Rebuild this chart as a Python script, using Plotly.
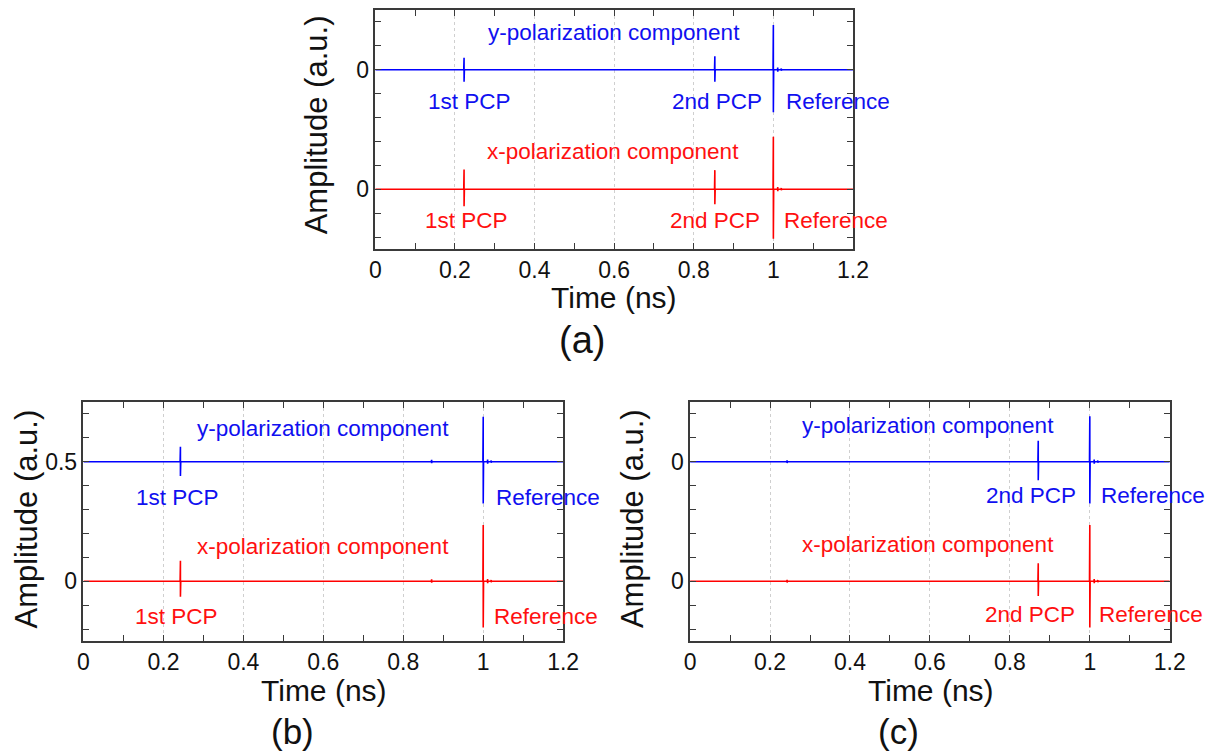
import plotly.graph_objects as go

# ---------------- data ----------------
T_START, T_END = 0.0, 1.2          # time window (ns)
Y_OFFSET = 0.5                     # vertical offset of the y-polarization trace
PULSE_HALF_WIDTH = 0.0008          # ns

# panel (a): pulse times (ns) and positive / negative excursions
a_times       = [0.223, 0.853, 1.000, 1.011, 1.020]
a_y_pos       = [0.050, 0.056, 0.187, 0.009, 0.005]
a_y_neg       = [0.050, 0.050, 0.178, 0.008, 0.004]
a_x_pos       = [0.083, 0.080, 0.220, 0.009, 0.005]
a_x_neg       = [0.071, 0.063, 0.207, 0.008, 0.004]

# panel (b)
b_times       = [0.2425, 0.871, 1.000, 1.011, 1.020]
b_y_pos       = [0.063, 0.008, 0.188, 0.009, 0.005]
b_y_neg       = [0.060, 0.006, 0.175, 0.008, 0.004]
b_x_pos       = [0.086, 0.008, 0.235, 0.009, 0.005]
b_x_neg       = [0.065, 0.006, 0.193, 0.008, 0.004]

# panel (c)
c_times       = [0.2427, 0.871, 1.000, 1.011, 1.020]
c_y_pos       = [0.006, 0.088, 0.190, 0.009, 0.005]
c_y_neg       = [0.005, 0.077, 0.175, 0.008, 0.004]
c_x_pos       = [0.006, 0.075, 0.235, 0.009, 0.005]
c_x_neg       = [0.005, 0.062, 0.193, 0.008, 0.004]

x_tick_labels = ["0", "0.2", "0.4", "0.6", "0.8", "1", "1.2"]
x_tick_vals = [0, 0.2, 0.4, 0.6, 0.8, 1.0, 1.2]
y_tick_vals = [0, 0.5]
a_y_tick_text = ["0", "0"]
b_y_tick_text = ["0", "0.5"]
c_y_tick_text = ["0", "0"]

# text labels: (text, x, y)
a_blue_labels = [("y-polarization component", 0.599, 0.657), ("1st PCP", 0.236, 0.369),
                 ("2nd PCP", 0.859, 0.369), ("Reference", 1.162, 0.369)]
a_red_labels = [("x-polarization component", 0.598, 0.159), ("1st PCP", 0.229, -0.132),
                ("2nd PCP", 0.853, -0.132), ("Reference", 1.158, -0.132)]
b_blue_labels = [("y-polarization component", 0.598, 0.640), ("1st PCP", 0.235, 0.351),
                 ("Reference", 1.162, 0.351)]
b_red_labels = [("x-polarization component", 0.598, 0.145), ("1st PCP", 0.232, -0.148),
                ("Reference", 1.157, -0.148)]
c_blue_labels = [("y-polarization component", 0.594, 0.650), ("2nd PCP", 0.853, 0.357),
                 ("Reference", 1.158, 0.357)]
c_red_labels = [("x-polarization component", 0.594, 0.152), ("2nd PCP", 0.850, -0.141),
                ("Reference", 1.154, -0.141)]

# ---------------- styling ----------------
W, H = 1211, 755
FONT = "Arial, Liberation Sans, sans-serif"
BLUE_LINE, RED_LINE = "#0000ff", "#ff0000"
BLUE_TEXT, RED_TEXT = "#1010f0", "#ff1010"
FRAME = "#3a3a3a"

# horizontal correction for the capture pipeline (observed compression)
SX, DX = 0.9825, 5.45


def px_x(px):
    return ((px - DX) / SX) / W


# panel domains in pixels: (left, right, top, bottom)
panels_px = {
    "a": (375, 853, 10, 249),
    "b": (83, 563, 402, 641),
    "c": (690, 1170, 402, 641),
}


def build_trace(times, pos, neg, offset):
    xs, ys = [T_START], [offset]
    for t, p, n in sorted(zip(times, pos, neg)):
        xs += [t - PULSE_HALF_WIDTH, t, t, t + PULSE_HALF_WIDTH]
        ys += [offset, offset + p, offset - n, offset]
    xs.append(T_END)
    ys.append(offset)
    return xs, ys


fig = go.Figure()
panel_data = {
    "a": (a_times, a_y_pos, a_y_neg, a_x_pos, a_x_neg, a_y_tick_text, a_blue_labels, a_red_labels),
    "b": (b_times, b_y_pos, b_y_neg, b_x_pos, b_x_neg, b_y_tick_text, b_blue_labels, b_red_labels),
    "c": (c_times, c_y_pos, c_y_neg, c_x_pos, c_x_neg, c_y_tick_text, c_blue_labels, c_red_labels),
}

annotations = []
for i, key in enumerate(["a", "b", "c"]):
    times, ypos, yneg, xpos, xneg, ytext, blue_lab, red_lab = panel_data[key]
    sfx = "" if i == 0 else str(i + 1)
    xa, ya = "x" + sfx, "y" + sfx
    bx, by = build_trace(times, ypos, yneg, Y_OFFSET)
    rx, ry = build_trace(times, xpos, xneg, 0.0)
    fig.add_trace(go.Scatter(x=rx, y=ry, mode="lines", line=dict(color=RED_LINE, width=1.6),
                             xaxis=xa, yaxis=ya, showlegend=False, hoverinfo="skip"))
    fig.add_trace(go.Scatter(x=bx, y=by, mode="lines", line=dict(color=BLUE_LINE, width=1.6),
                             xaxis=xa, yaxis=ya, showlegend=False, hoverinfo="skip"))

    l, r, t, b = panels_px[key]
    xdom = [px_x(l), px_x(r)]
    ydom = [1 - b / H, 1 - t / H]
    xaxis = dict(domain=xdom, range=[T_START, T_END], tickmode="array", tickvals=x_tick_vals,
                 ticktext=x_tick_labels, ticks="inside", ticklen=6, tickcolor=FRAME,
                 minor=dict(tickmode="linear", tick0=0, dtick=0.1, ticks="inside", ticklen=6,
                            tickcolor=FRAME, showgrid=False),
                 showline=True, linecolor=FRAME, linewidth=1.5, mirror="ticks",
                 showgrid=True, gridcolor="#cfcfcf", griddash="dot", gridwidth=1,
                 zeroline=False, anchor=ya,
                 tickfont=dict(family=FONT, size=23, color="#111111"))
    yaxis = dict(domain=ydom, range=[-0.25, 0.75], tickmode="array", tickvals=y_tick_vals,
                 ticktext=ytext, ticks="inside", ticklen=6, tickcolor=FRAME,
                 minor=dict(tickmode="linear", tick0=0, dtick=0.1, ticks="inside", ticklen=6,
                            tickcolor=FRAME, showgrid=False),
                 showline=True, linecolor=FRAME, linewidth=1.5, mirror="ticks",
                 showgrid=False, zeroline=False, anchor=xa,
                 tickfont=dict(family=FONT, size=23, color="#111111"))
    fig.update_layout(**{"xaxis" + sfx: xaxis, "yaxis" + sfx: yaxis})

    for txt, x, y in blue_lab:
        annotations.append(dict(text=txt, x=x, y=y, xref=xa, yref=ya, showarrow=False,
                                xanchor="center", yanchor="middle",
                                font=dict(family=FONT, size=22.5, color=BLUE_TEXT)))
    for txt, x, y in red_lab:
        annotations.append(dict(text=txt, x=x, y=y, xref=xa, yref=ya, showarrow=False,
                                xanchor="center", yanchor="middle",
                                font=dict(family=FONT, size=22.5, color=RED_TEXT)))

# axis titles and panel labels (pixel positions)
titles_px = [
    ("Time (ns)", 614, 297, 0, 30), ("Amplitude (a.u.)", 317, 125, -90, 31),
    ("Time (ns)", 324, 690, 0, 30), ("Amplitude (a.u.)", 25, 519, -90, 31),
    ("Time (ns)", 931, 690, 0, 30), ("Amplitude (a.u.)", 632, 519, -90, 31),
]
for txt, px, py, ang, sz in titles_px:
    annotations.append(dict(text=txt, x=px_x(px), y=1 - py / H, xref="paper", yref="paper",
                            showarrow=False, xanchor="center", yanchor="middle", textangle=ang,
                            font=dict(family=FONT, size=sz, color="#111111")))
for txt, px, py, sz in [("(a)", 582, 340, 38), ("(b)", 292, 731, 35), ("(c)", 899, 731, 35)]:
    annotations.append(dict(text=txt, x=px_x(px), y=1 - py / H, xref="paper", yref="paper",
                            showarrow=False, xanchor="center", yanchor="middle",
                            font=dict(family=FONT, size=sz, color="#111111")))

fig.update_layout(width=W, height=H, autosize=False, margin=dict(l=0, r=0, t=0, b=0),
                  paper_bgcolor="white", plot_bgcolor="white", annotations=annotations,
                  showlegend=False)

fig.write_html("out.html", config={"responsive": False, "displayModeBar": False},
               post_script="document.body.style.margin='0px';document.body.style.overflow='hidden';")
